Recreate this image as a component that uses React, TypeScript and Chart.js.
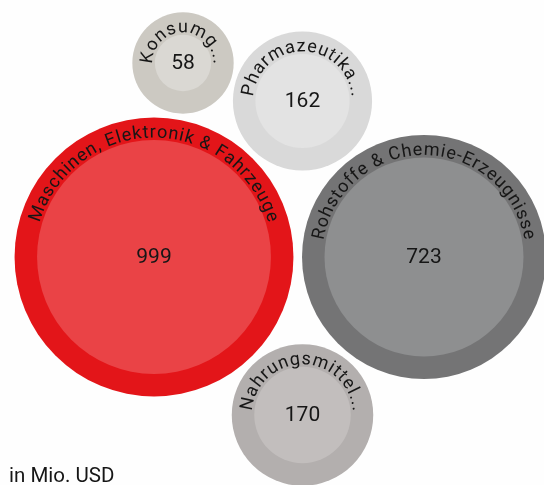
import React, { useEffect, useRef } from "react";
import { Chart, registerables } from "chart.js";

Chart.register(...registerables);

// Categories (labels as shown, truncated in the original)
const categories = [
  "Maschinen, Elektronik & Fahrzeuge",
  "Rohstoffe & Chemie-Erzeugnisse",
  "Konsumg...",
  "Pharmazeutika...",
  "Nahrungsmittel...",
];
// Values in Mio. USD
const values = [999, 723, 58, 162, 170];
// Packed-bubble layout positions (layout units)
const posX = [154, 424, 183, 302.5, 302.5];
const posY = [257, 257, 63, 101, 415];
// Colours
const ringColors = ["#E31519", "#747475", "#CCC9C2", "#D9D9D9", "#B3AFAE"];
const fillColors = ["#EA4346", "#8E8F90", "#DAD8D3", "#E3E3E3", "#C2BEBD"];
const footerText = "in Mio. USD";

const FONT = "Roboto, 'DejaVu Sans', sans-serif";
const RADIUS_K = 3.7; // px per sqrt(value)
const RING = 22.5;
const LETTER_GAP = 0.85;

const innerR = (v: number) => RADIUS_K * Math.sqrt(v);

const labelPlugin = {
  id: "bubbleLabels",
  afterDatasetsDraw(chart: any) {
    const ctx = chart.ctx as CanvasRenderingContext2D;
    const meta = chart.getDatasetMeta(0);
    ctx.save();
    ctx.fillStyle = "#161616";
    meta.data.forEach((el: any, i: number) => {
      const cx = el.x;
      const cy = el.y;
      const rIn = innerR(values[i]);
      // value
      ctx.font = `21px ${FONT}`;
      ctx.textAlign = "center";
      ctx.textBaseline = "alphabetic";
      ctx.fillText(String(values[i]), cx, cy + 5.5);
      // curved label
      const R = rIn + 2.5;
      ctx.font = `18px ${FONT}`;
      const chars = Array.from(categories[i]);
      const widths = chars.map((c) => ctx.measureText(c).width + LETTER_GAP);
      const total = widths.reduce((a, b) => a + b, 0) - LETTER_GAP;
      let a = -Math.PI / 2 - total / R / 2;
      chars.forEach((c, j) => {
        const w = widths[j] - LETTER_GAP;
        const mid = a + w / R / 2;
        ctx.save();
        ctx.translate(cx, cy);
        ctx.rotate(mid + Math.PI / 2);
        ctx.fillText(c, 0, -R);
        ctx.restore();
        a += widths[j] / R;
      });
    });
    // footer
    ctx.font = `20.5px ${FONT}`;
    ctx.textAlign = "left";
    ctx.textBaseline = "alphabetic";
    ctx.fillText(footerText, 9, 482);
    ctx.restore();
  },
};

export default function App() {
  const ref = useRef<HTMLCanvasElement>(null);
  useEffect(() => {
    document.body.style.margin = "0";
    document.body.style.background = "#FEFEFE";
    const outer = values.map((v, i) => ({ x: posX[i], y: posY[i], r: innerR(v) + RING }));
    const inner = values.map((v, i) => ({ x: posX[i], y: posY[i], r: innerR(v) }));
    const chart = new Chart(ref.current!, {
      type: "bubble",
      data: {
        datasets: [
          // first dataset is drawn on top
          { data: inner, backgroundColor: fillColors, borderWidth: 0, hoverBorderWidth: 0, clip: false },
          { data: outer, backgroundColor: ringColors, borderWidth: 0, hoverBorderWidth: 0, clip: false },
        ],
      },
      options: {
        animation: false,
        responsive: false,
        events: [],
        layout: { padding: 0, autoPadding: false },
        plugins: { legend: { display: false }, tooltip: { enabled: false }, title: { display: false } },
        scales: {
          x: { type: "linear", min: 0, max: 544, display: false },
          y: { type: "linear", min: 0, max: 485, reverse: true, display: false },
        },
        elements: { point: { hitRadius: 0 } },
      },
      plugins: [labelPlugin],
    });
    return () => chart.destroy();
  }, []);
  return (
    <div style={{ width: 544, height: 485, overflow: "hidden" }}>
      <canvas ref={ref} width={544} height={485} style={{ display: "block" }} />
    </div>
  );
}
